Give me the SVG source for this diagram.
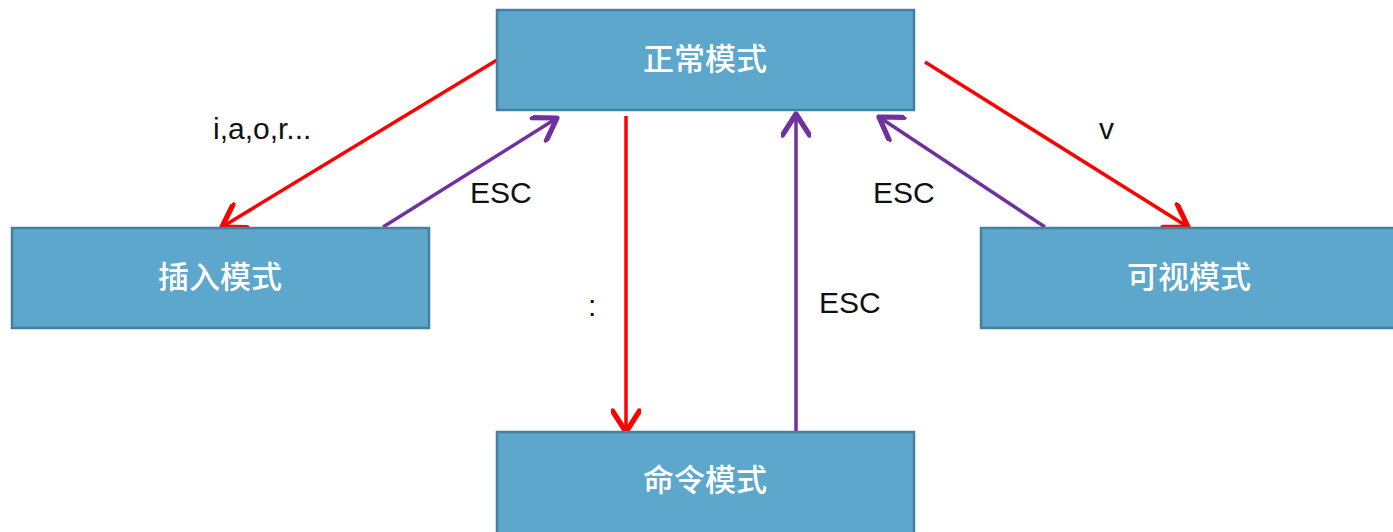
<svg xmlns="http://www.w3.org/2000/svg" width="1393" height="532" viewBox="0 0 1393 532">
<style>
.box{fill:#5CA7CB;stroke:#44809F;stroke-width:2.5}
.nt{font-family:"Noto Sans CJK SC","Noto Sans",sans-serif;font-size:31px;font-weight:500;fill:#FFFFFF;text-anchor:middle}
.lb{font-family:"Liberation Sans",Arial,sans-serif;font-size:30px;fill:#111111}
.red{stroke:#FF0000;stroke-width:3.5;fill:none}
.pur{stroke:#7030A0;stroke-width:3.5;fill:none}
</style>
<defs>
<marker id="ar" markerUnits="userSpaceOnUse" markerWidth="30" markerHeight="30" refX="16" refY="10" orient="auto" viewBox="0 0 20 20">
<path d="M2,1 L16,10 L2,19" fill="none" stroke="#FF0000" stroke-width="3.5" stroke-linecap="round" stroke-linejoin="round"/>
</marker>
<marker id="ap" markerUnits="userSpaceOnUse" markerWidth="30" markerHeight="30" refX="16" refY="10" orient="auto" viewBox="0 0 20 20">
<path d="M2,1 L16,10 L2,19" fill="none" stroke="#7030A0" stroke-width="3.5" stroke-linecap="round" stroke-linejoin="round"/>
</marker>
</defs>
<rect width="1393" height="532" fill="#FFFFFF"/>
<g id="connectors">
<line class="red" x1="497" y1="60" x2="222" y2="227" marker-end="url(#ar)"/>
<line class="pur" x1="383" y1="227" x2="557" y2="118" marker-end="url(#ap)"/>
<line class="red" x1="925" y1="62" x2="1188" y2="227" marker-end="url(#ar)"/>
<line class="pur" x1="1045" y1="227" x2="879" y2="117" marker-end="url(#ap)"/>
<line class="red" x1="626" y1="116" x2="626" y2="432" marker-end="url(#ar)"/>
<line class="pur" x1="796" y1="437" x2="796" y2="114" marker-end="url(#ap)"/>
<text class="lb" x="213" y="139">i,a,o,r...</text>
<text class="lb" x="470" y="203">ESC</text>
<text class="lb" x="1099" y="139">v</text>
<text class="lb" x="873" y="203">ESC</text>
<text class="lb" x="588" y="316">:</text>
<text class="lb" x="819" y="313">ESC</text>
</g>
<g id="node-normal">
<rect class="box" x="497" y="10" width="417" height="100"/>
<text class="nt" x="705" y="70">正常模式</text>
</g>
<g id="node-insert">
<rect class="box" x="12" y="228" width="417" height="100"/>
<text class="nt" x="220" y="288">插入模式</text>
</g>
<g id="node-visual">
<rect class="box" x="981" y="228" width="417" height="100"/>
<text class="nt" x="1189" y="288">可视模式</text>
</g>
<g id="node-command">
<rect class="box" x="497" y="432" width="417" height="110"/>
<text class="nt" x="705" y="491">命令模式</text>
</g>
</svg>
